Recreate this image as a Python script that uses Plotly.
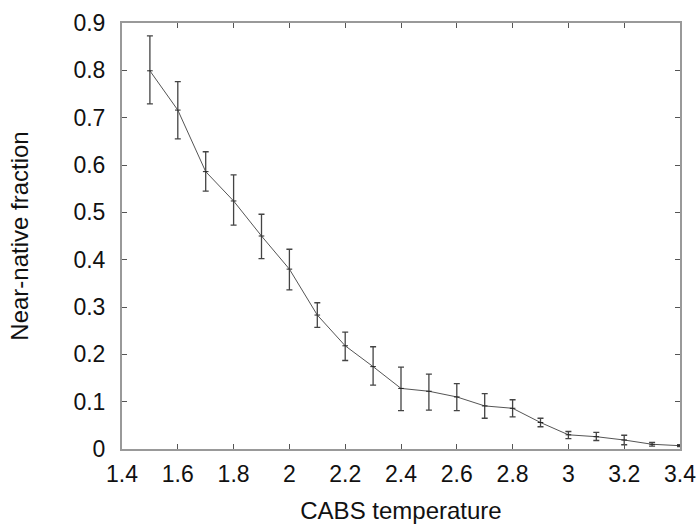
import plotly.graph_objects as go

temperature = [1.5, 1.6, 1.7, 1.8, 1.9, 2.0, 2.1, 2.2, 2.3, 2.4, 2.5, 2.6, 2.7, 2.8, 2.9, 3.0, 3.1, 3.2, 3.3, 3.4]
fraction = [0.799, 0.716, 0.586, 0.524, 0.450, 0.380, 0.283, 0.218, 0.174, 0.128, 0.122, 0.110, 0.091, 0.086, 0.056, 0.030, 0.026, 0.019, 0.010, 0.007]
err_upper = [0.873, 0.776, 0.628, 0.579, 0.496, 0.422, 0.309, 0.247, 0.216, 0.173, 0.158, 0.138, 0.117, 0.104, 0.065, 0.037, 0.035, 0.029, 0.014, 0.009]
err_lower = [0.729, 0.655, 0.545, 0.473, 0.402, 0.336, 0.257, 0.187, 0.135, 0.081, 0.082, 0.081, 0.065, 0.068, 0.047, 0.022, 0.018, 0.009, 0.006, 0.005]

x_ticks = [1.4, 1.6, 1.8, 2.0, 2.2, 2.4, 2.6, 2.8, 3.0, 3.2, 3.4]
x_tick_text = ["1.4", "1.6", "1.8", "2", "2.2", "2.4", "2.6", "2.8", "3", "3.2", "3.4"]
y_ticks = [0, 0.1, 0.2, 0.3, 0.4, 0.5, 0.6, 0.7, 0.8, 0.9]
y_tick_text = ["0", "0.1", "0.2", "0.3", "0.4", "0.5", "0.6", "0.7", "0.8", "0.9"]

plus = [u - f for u, f in zip(err_upper, fraction)]
minus = [f - l for f, l in zip(fraction, err_lower)]

fig = go.Figure()
fig.add_trace(go.Scatter(
    x=temperature, y=fraction, mode="lines+markers",
    line=dict(color="#555555", width=1),
    marker=dict(symbol="line-ew", size=4, line=dict(color="#222222", width=1)),
    error_y=dict(type="data", symmetric=False, array=plus, arrayminus=minus,
                 color="#444444", thickness=1.3, width=3),
    showlegend=False,
))

tick_font = dict(family="Liberation Sans, Arial, sans-serif", size=23, color="#111111")
title_font = dict(family="Liberation Sans, Arial, sans-serif", size=24, color="#111111")
axis_common = dict(
    showgrid=False, zeroline=False, showline=True, linecolor="#999999", linewidth=2,
    mirror="allticks", ticks="inside", ticklen=5, tickcolor="#555555", tickwidth=1,
    tickfont=tick_font, automargin=False,
)
fig.update_layout(
    width=700, height=524,
    margin=dict(l=122, r=20, t=23, b=75),
    paper_bgcolor="white", plot_bgcolor="white",
    font=tick_font,
    xaxis=dict(range=[1.4, 3.4], tickvals=x_ticks, ticktext=x_tick_text, ticklabelstandoff=3,
               title=dict(text="CABS temperature", font=title_font, standoff=23), **axis_common),
    yaxis=dict(range=[0, 0.9], tickvals=y_ticks, ticktext=y_tick_text, ticklabelstandoff=10,
               title=dict(text="Near-native fraction", font=title_font, standoff=38), **axis_common),
)
fig.write_html("out.html", config={"displayModeBar": False},
               post_script="document.body.style.margin='0';document.body.style.overflow='hidden';")
